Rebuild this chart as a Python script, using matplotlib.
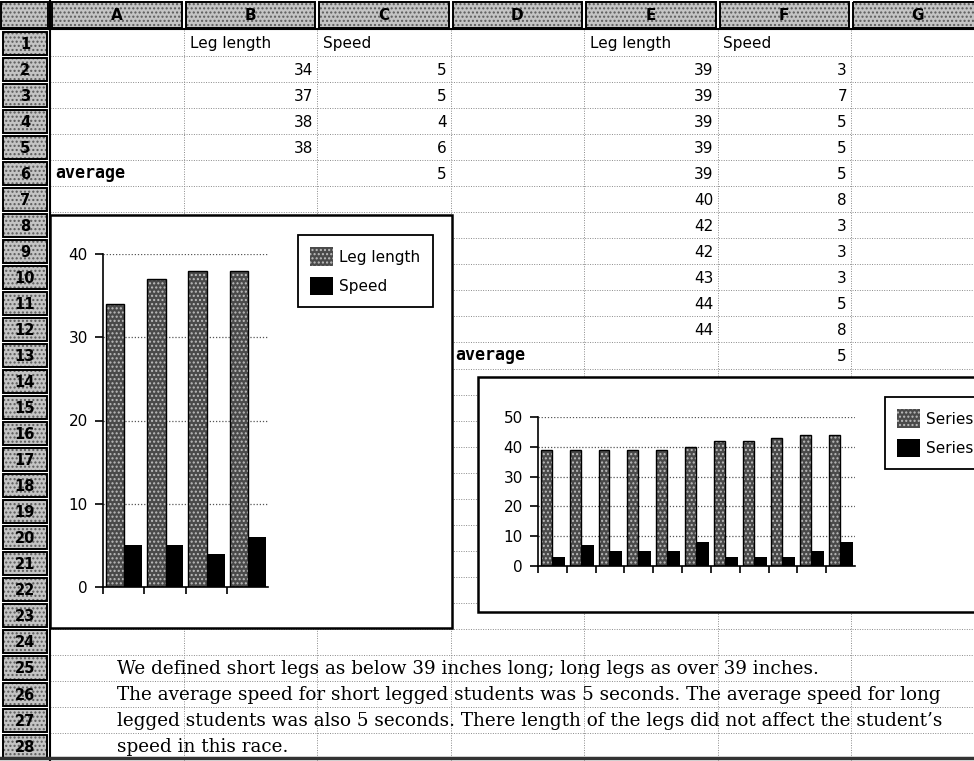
import matplotlib.pyplot as plt
from matplotlib.patches import Rectangle
import numpy as np

# short legged students (B/C, rows 2-5) and long legged students (E/F, rows 2-12)
short_leg = [34, 37, 38, 38]
short_speed = [5, 5, 4, 6]
long_leg = [39, 39, 39, 39, 39, 40, 42, 42, 43, 44, 44]
long_speed = [3, 7, 5, 5, 5, 8, 3, 3, 3, 5, 8]
col_letters = ['A', 'B', 'C', 'D', 'E', 'F', 'G']
notes = [
    "We defined short legs as below 39 inches long; long legs as over 39 inches.",
    "The average speed for short legged students was 5 seconds. The average speed for long",
    "legged students was also 5 seconds. There length of the legs did not affect the student\u2019s",
    "speed in this race.",
]

W, H = 974, 761
HEAD_H = 30
ROW_H = 26.04
COL_W = 133.5
X0 = 50
N_ROWS = 28
SANS = 'DejaVu Sans'


def row_mid(r):
    return HEAD_H + (r - 0.5) * ROW_H


def col_left(c):
    return X0 + c * COL_W


fig = plt.figure(figsize=(W / 100, H / 100), dpi=100)
sheet = fig.add_axes([0, 0, 1, 1])
sheet.set_xlim(0, W)
sheet.set_ylim(H, 0)
sheet.axis('off')

# dotted cell grid
for r in range(1, N_ROWS + 1):
    y = HEAD_H + r * ROW_H
    sheet.plot([X0, W], [y, y], ls=(0, (1, 1.5)), color='#8a8a8a', lw=0.7, zorder=1)
for c in range(1, 7):
    x = col_left(c)
    sheet.plot([x, x], [HEAD_H, H], ls=(0, (1, 1.5)), color='#8a8a8a', lw=0.7, zorder=1)


def stipple_box(x, y, w, h):
    sheet.add_patch(Rectangle((x, y), w, h, facecolor='#c4c4c4', edgecolor='#5a5a5a',
                              hatch='....', lw=0, zorder=2))
    sheet.add_patch(Rectangle((x, y), w, h, fill=False, edgecolor='black', lw=1.4, zorder=2))


# column headers
stipple_box(1, 2, 47, 26)
for c, letter in enumerate(col_letters):
    stipple_box(col_left(c) + 2, 2, COL_W - 4, 26)
    sheet.text(col_left(c) + COL_W / 2, 15, letter, ha='center', va='center',
               fontsize=11, fontweight='bold', family=SANS, zorder=3)

# row headers
for r in range(1, N_ROWS + 1):
    top = HEAD_H + (r - 1) * ROW_H
    stipple_box(3, top + 1.5, 44, ROW_H - 3)
    sheet.text(25, row_mid(r) + 1, str(r), ha='center', va='center',
               fontsize=10.5, fontweight='bold', family=SANS, zorder=3)

sheet.plot([0, W], [HEAD_H - 1, HEAD_H - 1], color='black', lw=1.5, zorder=2)
sheet.plot([X0, X0], [0, H], color='black', lw=1.5, zorder=2)
sheet.plot([0, W], [H - 3, H - 3], color='#333333', lw=2.5, zorder=2)

# cell contents
cell_kw = dict(fontsize=11, family=SANS, va='center', zorder=3)
sheet.text(col_left(1) + 6, row_mid(1), 'Leg length', ha='left', **cell_kw)
sheet.text(col_left(2) + 6, row_mid(1), 'Speed', ha='left', **cell_kw)
for i, (leg, spd) in enumerate(zip(short_leg, short_speed)):
    sheet.text(col_left(2) - 4, row_mid(i + 2) + 1, str(leg), ha='right', **cell_kw)
    sheet.text(col_left(3) - 4, row_mid(i + 2) + 1, str(spd), ha='right', **cell_kw)
sheet.text(col_left(0) + 5, row_mid(6), 'average', ha='left', fontsize=12,
           family='DejaVu Sans Mono', fontweight='bold', va='center', zorder=3)
sheet.text(col_left(3) - 4, row_mid(6) + 1, f'{np.mean(short_speed):.0f}', ha='right', **cell_kw)

sheet.text(col_left(4) + 6, row_mid(1), 'Leg length', ha='left', **cell_kw)
sheet.text(col_left(5) + 6, row_mid(1), 'Speed', ha='left', **cell_kw)
for i, (leg, spd) in enumerate(zip(long_leg, long_speed)):
    sheet.text(col_left(5) - 4, row_mid(i + 2) + 1, str(leg), ha='right', **cell_kw)
    sheet.text(col_left(6) - 4, row_mid(i + 2) + 1, str(spd), ha='right', **cell_kw)
n = len(long_leg) + 2
sheet.text(col_left(3) + 5, row_mid(n), 'average', ha='left', fontsize=12,
           family='DejaVu Sans Mono', fontweight='bold', va='center', zorder=3)
sheet.text(col_left(6) - 4, row_mid(n) + 1, f'{np.mean(long_speed):.0f}', ha='right', **cell_kw)

# conclusion text (overflows across the cells)
for i, line in enumerate(notes):
    sheet.text(117, row_mid(25 + i) + 1, line, ha='left', va='center', fontsize=13.2,
               family='DejaVu Serif', zorder=3)

# chart frames
sheet.add_patch(Rectangle((X0, 215), 402, 413, facecolor='white', edgecolor='black', lw=1.8, zorder=4))
sheet.add_patch(Rectangle((478, 377), 520, 235, facecolor='white', edgecolor='black', lw=1.8, zorder=4))


def fig_rect(x0, y_top, x1, y_bot):
    return [x0 / W, 1 - y_bot / H, (x1 - x0) / W, (y_bot - y_top) / H]


def draw_chart(ax, legs, speeds, ymax, step, leg_off, leg_w, spd_off, spd_w, labels, legend_xy):
    ax.patch.set_alpha(0)
    x = np.arange(len(legs))
    b1 = ax.bar(x + leg_off, legs, width=leg_w, align='edge', color='#4a4a4a',
                edgecolor='#bdbdbd', hatch='....', lw=0, label=labels[0], zorder=2)
    ax.bar(x + leg_off, legs, width=leg_w, align='edge', fill=False, edgecolor='black', lw=1, zorder=3)
    b2 = ax.bar(x + spd_off, speeds, width=spd_w, align='edge', color='black', lw=0,
                label=labels[1], zorder=2)
    ax.set_xlim(0, len(legs))
    ax.set_ylim(0, ymax)
    ax.set_yticks(np.arange(0, ymax + 1, step))
    ax.set_xticks(np.arange(0, len(legs)))
    ax.set_xticklabels([])
    ax.yaxis.grid(True, ls=(0, (1, 1.5)), color='#555555', lw=0.9)
    ax.set_axisbelow(True)
    for s in ('top', 'right'):
        ax.spines[s].set_visible(False)
    for s in ('left', 'bottom'):
        ax.spines[s].set_linewidth(1.2)
    ax.tick_params(axis='y', length=6, width=1.2, labelsize=11, pad=5)
    ax.tick_params(axis='x', length=5, width=1.2)
    for t in ax.get_yticklabels():
        t.set_family(SANS)
    leg = ax.legend(handles=[b1, b2], loc='upper left',
                    bbox_to_anchor=(legend_xy[0] / W, 1 - legend_xy[1] / H),
                    bbox_transform=fig.transFigure, borderaxespad=0, fancybox=False,
                    framealpha=1, edgecolor='black', prop={'family': SANS, 'size': 11},
                    handlelength=1.5, handleheight=1.5, handletextpad=0.4,
                    borderpad=0.8, labelspacing=0.7)
    leg.get_frame().set_linewidth(1.3)


ax1 = fig.add_axes(fig_rect(103, 254, 268, 587))
ax1.set_zorder(5)
draw_chart(ax1, short_leg, short_speed, 40, 10, 0.07, 0.45, 0.52, 0.43,
           ['Leg length', 'Speed'], (298, 235))

ax2 = fig.add_axes(fig_rect(538, 417, 855, 566))
ax2.set_zorder(5)
draw_chart(ax2, long_leg, long_speed, 50, 10, 0.1, 0.38, 0.48, 0.45,
           ['Series1', 'Series2'], (885, 397))

fig.savefig('out.png', dpi=100)
